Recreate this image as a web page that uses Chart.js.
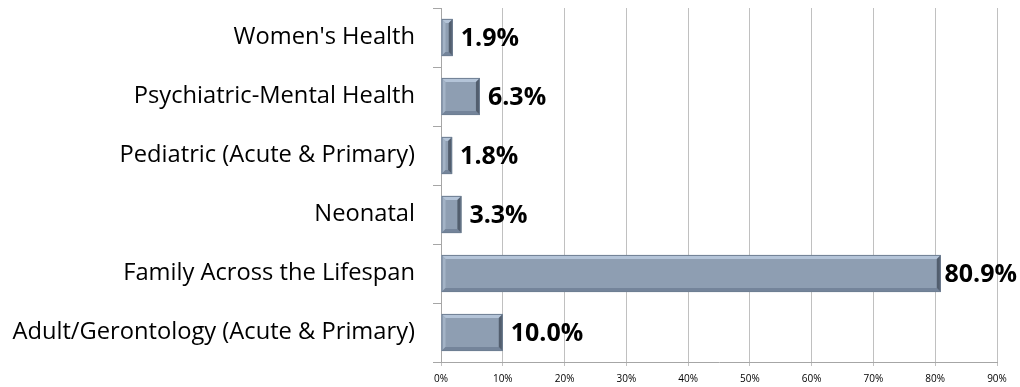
<!DOCTYPE html>
<html>
<head>
<meta charset="utf-8">
<script src="https://cdn.jsdelivr.net/npm/chart.js@4.4.1/dist/chart.umd.min.js"></script>
<style>
  html, body { margin: 0; padding: 0; background: #ffffff; }
  #wrap { width: 1020px; height: 387px; position: relative; }
</style>
</head>
<body>
<div id="wrap"><canvas id="specialtyChart"></canvas></div>
<script>
// specialty shares, listed top to bottom
var specialties = [
    "Women's Health",
    "Psychiatric-Mental Health",
    "Pediatric (Acute & Primary)",
    "Neonatal",
    "Family Across the Lifespan",
    "Adult/Gerontology (Acute & Primary)"
];
var percentValues = [1.9, 6.3, 1.8, 3.3, 80.9, 10.0];
var axisTicks = [0, 10, 20, 30, 40, 50, 60, 70, 80, 90];

var barFill = '#8e9eb2';
var gridGray = '#c0c0c0';

// draws the bevelled edges on each bar, using the bar element geometry
var bevelPlugin = {
    id: 'bevel',
    afterDatasetsDraw: function (chart) {
        var ctx = chart.ctx;
        var meta = chart.getDatasetMeta(0);
        meta.data.forEach(function (bar) {
            var x0 = bar.base, x1 = bar.x;
            var y0 = bar.y - bar.height / 2, y1 = bar.y + bar.height / 2;
            var b = Math.min(4, (x1 - x0) / 2);
            ctx.save();
            // top highlight
            ctx.fillStyle = '#b4c4d8';
            ctx.beginPath();
            ctx.moveTo(x0, y0); ctx.lineTo(x1, y0); ctx.lineTo(x1 - b, y0 + b); ctx.lineTo(x0 + b, y0 + b);
            ctx.closePath(); ctx.fill();
            // left highlight
            ctx.fillStyle = '#a3b3c6';
            ctx.beginPath();
            ctx.moveTo(x0, y0); ctx.lineTo(x0 + b, y0 + b); ctx.lineTo(x0 + b, y1 - b); ctx.lineTo(x0, y1);
            ctx.closePath(); ctx.fill();
            // bottom shade
            ctx.fillStyle = '#74849a';
            ctx.beginPath();
            ctx.moveTo(x0, y1); ctx.lineTo(x0 + b, y1 - b); ctx.lineTo(x1 - b, y1 - b); ctx.lineTo(x1, y1);
            ctx.closePath(); ctx.fill();
            // right shade
            ctx.fillStyle = '#525e6e';
            ctx.beginPath();
            ctx.moveTo(x1, y0); ctx.lineTo(x1, y1); ctx.lineTo(x1 - b, y1 - b); ctx.lineTo(x1 - b, y0 + b);
            ctx.closePath(); ctx.fill();
            ctx.strokeStyle = '#6f7f93';
            ctx.lineWidth = 1;
            ctx.strokeRect(x0 + 0.5, y0 + 0.5, x1 - x0 - 1, y1 - y0 - 1);
            ctx.restore();
        });
    }
};

// value labels to the right of each bar
var valueLabelPlugin = {
    id: 'valueLabels',
    afterDatasetsDraw: function (chart) {
        var ctx = chart.ctx;
        var meta = chart.getDatasetMeta(0);
        ctx.save();
        ctx.font = 'bold 25px "Open Sans", sans-serif';
        ctx.fillStyle = '#000000';
        ctx.textBaseline = 'middle';
        ctx.textAlign = 'left';
        meta.data.forEach(function (bar, i) {
            var txt = percentValues[i].toFixed(1) + '%';
            var w = ctx.measureText(txt).width;
            var tx = Math.min(bar.x + 8, chart.width - w - 3);
            ctx.fillText(txt, tx, bar.y + 1);
        });
        ctx.restore();
    }
};

var ctx = document.getElementById('specialtyChart').getContext('2d');

var chart = new Chart(ctx, {
    type: 'bar',
    data: {
        labels: specialties,
        datasets: [{
            data: percentValues,
            backgroundColor: barFill,
            borderWidth: 0,
            categoryPercentage: 0.63,
            barPercentage: 1.0
        }]
    },
    options: {
        indexAxis: 'y',
        responsive: true,
        maintainAspectRatio: false,
        animation: false,
        layout: {
            padding: { top: 8, right: 23, bottom: 0, left: 0 }
        },
        scales: {
            x: {
                min: 0,
                max: 90,
                afterBuildTicks: function (scale) {
                    scale.ticks = axisTicks.map(function (v) { return { value: v }; });
                },
                afterFit: function (scale) {
                    scale.height = 25;
                    scale.paddingLeft = 0;
                    scale.paddingRight = 0;
                },
                ticks: {
                    callback: function (v) { return v + '%'; },
                    font: { family: '"Open Sans", sans-serif', size: 10 },
                    color: '#000000',
                    padding: 7,
                    maxRotation: 0
                },
                grid: {
                    color: gridGray,
                    tickLength: 4
                },
                border: { color: '#a6a6a6' }
            },
            y: {
                afterFit: function (scale) {
                    scale.width = 441;
                    scale.paddingTop = 0;
                    scale.paddingBottom = 0;
                },
                ticks: {
                    font: { family: '"Open Sans", sans-serif', size: 23.7 },
                    color: '#000000',
                    padding: 18
                },
                grid: {
                    offset: true,
                    drawOnChartArea: false,
                    color: '#a6a6a6',
                    tickLength: 8
                },
                border: { color: '#a6a6a6' }
            }
        },
        plugins: {
            legend: { display: false },
            tooltip: { enabled: false }
        }
    },
    plugins: [bevelPlugin, valueLabelPlugin]
});
</script>
</body>
</html>
